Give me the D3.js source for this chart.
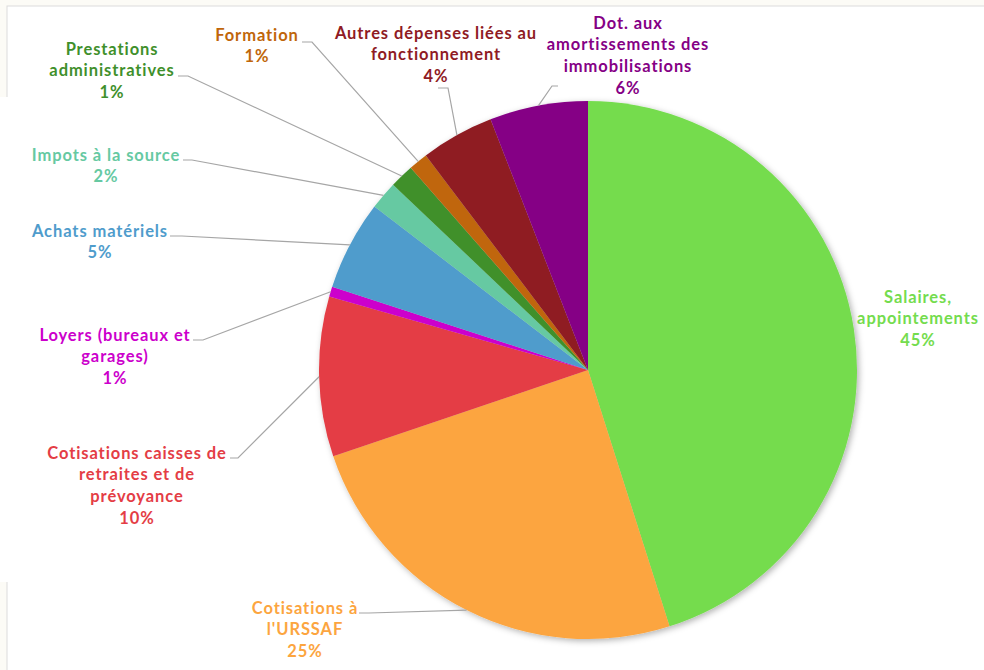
<!doctype html>
<html lang="fr">
<head>
  <meta charset="utf-8">
  <script src="https://d3js.org/d3.v7.min.js"></script>
  <style>
    body { margin: 0; background: #fff; }
    text { font-family: Lato, "Open Sans", sans-serif; font-weight: bold; }
  </style>
</head>
<body>
  <svg id="chart"></svg>
  <script>
    // data (percent of total, clockwise from 12 o'clock)
    const categories = [
      "Salaires, appointements",
      "Cotisations à l'URSSAF",
      "Cotisations caisses de retraites et de prévoyance",
      "Loyers (bureaux et garages)",
      "Achats matériels",
      "Impots à la source",
      "Prestations administratives",
      "Formation",
      "Autres dépenses liées au fonctionnement",
      "Dot. aux amortissements des immobilisations"
    ];
    const values = [45.1, 24.7, 9.6, 0.6, 5.4, 1.7, 1.45, 1.15, 4.4, 5.9];
    const colors = ["#74dc4e", "#fca53f", "#e43d45", "#cc00cc", "#4f9ccc",
                    "#66c9a2", "#3f902c", "#c0660a", "#8f1b24", "#850085"];

    // label layout: wrapped lines, centre x, first line y, leader hook [x1, x2, y]
    const labelLines = [
      ["Salaires,", "appointements"],
      ["Cotisations à", "l'URSSAF"],
      ["Cotisations caisses de", "retraites et de", "prévoyance"],
      ["Loyers (bureaux et", "garages)"],
      ["Achats matériels"],
      ["Impots à la source"],
      ["Prestations", "administratives"],
      ["Formation"],
      ["Autres dépenses liées au", "fonctionnement"],
      ["Dot. aux", "amortissements des", "immobilisations"]
    ];
    const labelPos = [
      [918, 297, null],
      [305, 608, [359, 369, 613]],
      [137, 453, [230, 238, 458]],
      [115, 335, [193, 203, 340]],
      [100, 231, [170, 182, 236]],
      [106, 155, [183, 192, 160]],
      [112, 49, [178, 188, 76]],
      [257, 35, [302, 312, 42]],
      [436, 33, [438, 448, 88]],
      [628, 23, [558, 552, 86]]
    ];

    const width = 984, height = 670;
    const cx = 588, cy = 370, radius = 269;
    const lineH = 21.6;

    const svg = d3.select("#chart")
      .attr("width", width)
      .attr("height", height);

    // slide frame behind the chart
    svg.append("rect").attr("width", width).attr("height", height).attr("fill", "#fcfbf6");
    svg.append("rect")
      .attr("x", 7).attr("y", 6).attr("width", width).attr("height", height)
      .attr("fill", "#fff").attr("stroke", "#dcdcdc");
    svg.append("rect")
      .attr("x", 0).attr("y", 97).attr("width", 40).attr("height", 485)
      .attr("fill", "#fff");

    const defs = svg.append("defs");
    defs.append("filter").attr("id", "shadow")
      .attr("x", "-10%").attr("y", "-10%").attr("width", "120%").attr("height", "120%")
      .append("feDropShadow")
        .attr("dx", 2).attr("dy", 2).attr("stdDeviation", 3)
        .attr("flood-color", "#000").attr("flood-opacity", 0.3);

    const data = categories.map((c, i) => ({ name: c, value: values[i], i: i }));

    const pie = d3.pie().sort(null).value(d => d.value);
    const arcs = pie(data);
    const arc = d3.arc().innerRadius(0).outerRadius(radius);
    const edge = d3.arc().innerRadius(radius).outerRadius(radius);

    const total = d3.sum(values);
    const pct = d3.format(".0%");

    const g = svg.append("g").attr("transform", `translate(${cx},${cy})`);

    g.append("g")
      .attr("filter", "url(#shadow)")
      .selectAll("path")
      .data(arcs)
      .join("path")
        .attr("d", arc)
        .attr("fill", d => colors[d.data.i]);

    // leader lines
    svg.append("g")
      .attr("fill", "none")
      .attr("stroke", "#a6a6a6")
      .attr("stroke-width", 1.2)
      .selectAll("path")
      .data(arcs.filter(d => labelPos[d.data.i][2]))
      .join("path")
        .attr("d", d => {
          const h = labelPos[d.data.i][2];
          const p = edge.centroid(d);
          return d3.line()([[h[0], h[2]], [h[1], h[2]], [cx + p[0], cy + p[1]]]);
        });

    // labels
    const labels = svg.append("g")
      .attr("text-anchor", "middle")
      .attr("font-size", 16.5)
      .attr("letter-spacing", "0.9px")
      .selectAll("text")
      .data(arcs)
      .join("text")
        .attr("fill", d => colors[d.data.i])
        .attr("transform", d => `translate(${labelPos[d.data.i][0]},${labelPos[d.data.i][1]})`);

    labels.each(function(d) {
      const t = d3.select(this);
      const lines = labelLines[d.data.i].concat([pct(d.data.value / total)]);
      lines.forEach((s, k) => {
        t.append("tspan")
          .attr("x", 0)
          .attr("y", k * lineH)
          .attr("dy", "0.35em")
          .text(s);
      });
    });
  </script>
</body>
</html>
